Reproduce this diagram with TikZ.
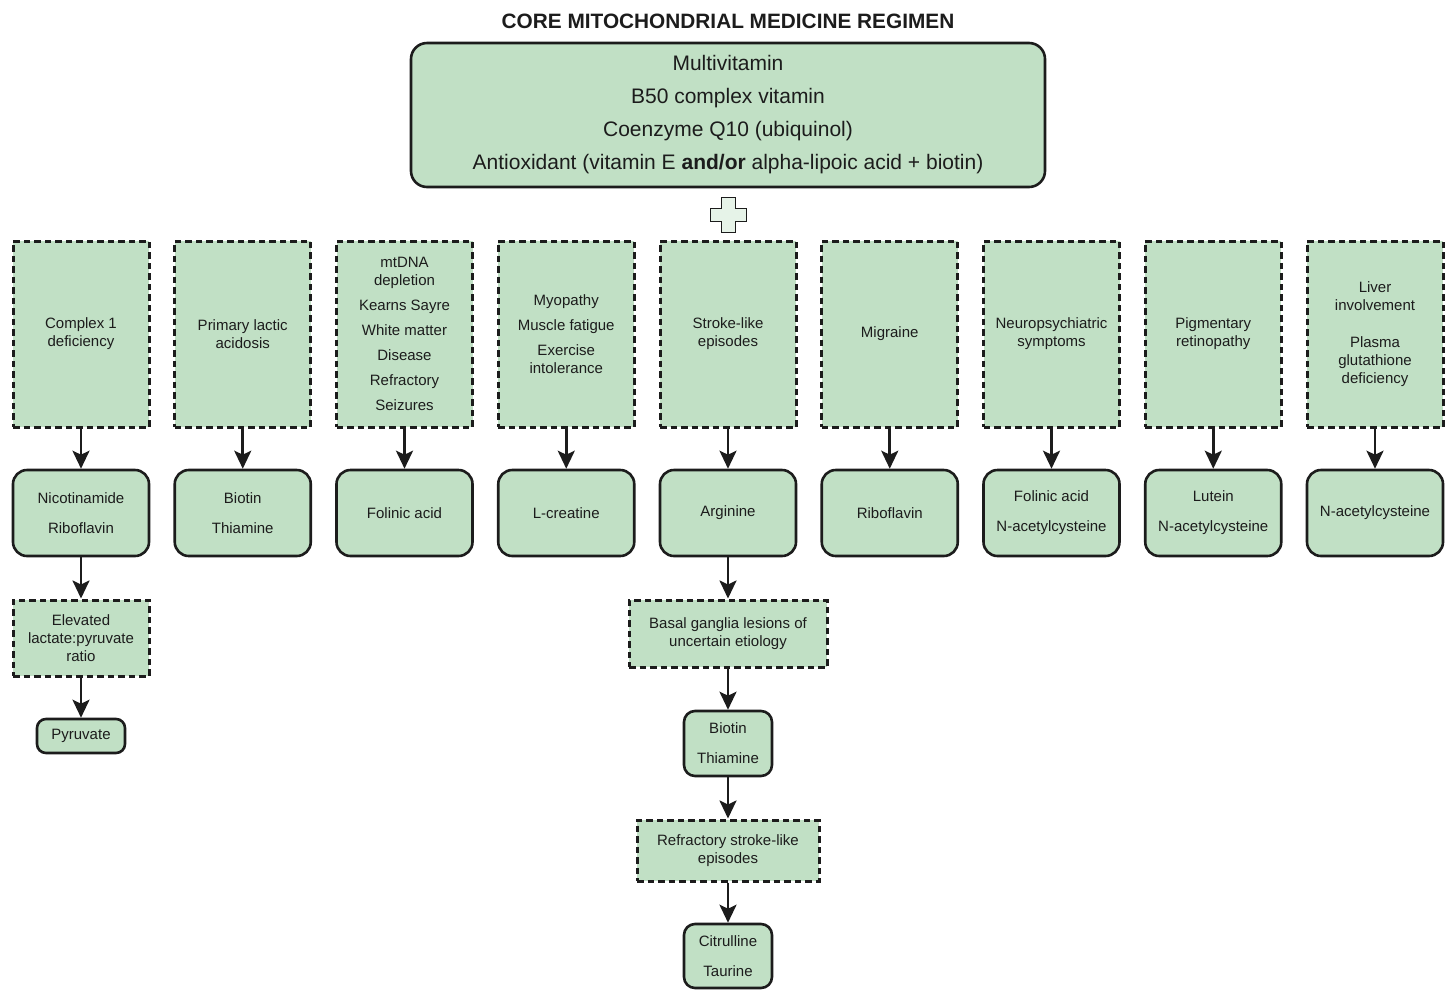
\documentclass[tikz,border=0pt]{standalone}
\usepackage{fontspec}
\setmainfont{Liberation Sans}
\usetikzlibrary{arrows.meta}
\definecolor{boxgreen}{RGB}{193,224,197}
\definecolor{edge}{RGB}{28,28,28}
\tikzset{
  base/.style={fill=boxgreen, align=center, inner sep=0pt, font=\fontsize{15}{18}\selectfont, text=edge},
  dbox/.style={base, draw=edge, line width=3pt, dash pattern=on 6.5pt off 4pt},
  rbox/.style={base, draw=edge, line width=2.6pt, rounded corners=14pt},
  arr/.style={draw=edge, line width=2.6pt, -{Stealth[length=18pt,width=17pt,inset=4pt]}},
}
\begin{document}
\begin{tikzpicture}[x=1pt,y=-1pt]
\useasboundingbox (0,0) rectangle (1453,989);
\node[font=\bfseries\fontsize{20.8}{24}\selectfont, text=edge] (title) at (728,21) {CORE MITOCHONDRIAL MEDICINE REGIMEN};
\node[rbox, rounded corners=16pt, minimum width=634pt, minimum height=144pt, font=\fontsize{21}{33}\selectfont] (core) at (728,115)
 {Multivitamin\\B50 complex vitamin\\Coenzyme Q10 (ubiquinol)\\Antioxidant (vitamin E \textbf{and/or} alpha-lipoic acid + biotin)};
\draw[draw=edge, line width=1pt, fill=boxgreen!40!white] (721,197) -- (735,197) -- (735,208) -- (746,208) -- (746,221) -- (735,221) -- (735,232) -- (721,232) -- (721,221) -- (710,221) -- (710,208) -- (721,208) -- cycle;
\coordinate (plus) at (728,214);
% columns
\foreach \i/\txt/\med in {
 1/{Complex 1\\deficiency}/{Nicotinamide\\[12pt]Riboflavin},
 2/{Primary lactic\\acidosis}/{Biotin\\[12pt]Thiamine},
 3/{mtDNA\\depletion\\[7pt]Kearns Sayre\\[7pt]White matter\\[7pt]Disease\\[7pt]Refractory\\[7pt]Seizures}/{Folinic acid},
 4/{Myopathy\\[7pt]Muscle fatigue\\[7pt]Exercise\\intolerance}/{L-creatine},
 5/{Stroke-like\\episodes}/{Arginine},
 6/{Migraine}/{Riboflavin},
 7/{Neuropsychiatric\\symptoms}/{Folinic acid\\[12pt]N-acetylcysteine},
 8/{Pigmentary\\retinopathy}/{Lutein\\[12pt]N-acetylcysteine},
 9/{Liver\\involvement\\[19pt]Plasma\\glutathione\\deficiency}/{N-acetylcysteine}} {
  \pgfmathsetmacro{\cx}{81+161.75*(\i-1)}
  \node[dbox, minimum width=136pt, minimum height=186pt] (c\i) at (\cx,334) {\txt};
  \node[rbox, minimum width=136pt, minimum height=86pt] (m\i) at (\cx,513) {\med};
  \draw[arr] (c\i) -- (m\i);
}
% column 1 chain
\node[dbox, minimum width=136pt, minimum height=76pt] (lac) at (81,638) {Elevated\\lactate:pyruvate\\ratio};
\node[rbox, rounded corners=9pt, minimum width=88pt, minimum height=34pt] (pyr) at (81,736) {Pyruvate};
\draw[arr] (m1) -- (lac);
\draw[arr] (lac) -- (pyr);
% column 5 chain
\node[dbox, minimum width=198pt, minimum height=67pt] (bas) at (728,633.5) {Basal ganglia lesions of\\uncertain etiology};
\node[rbox, rounded corners=11pt, minimum width=88pt, minimum height=65pt] (bt) at (728,743.5) {Biotin\\[12pt]Thiamine};
\node[dbox, minimum width=182pt, minimum height=61pt] (ref) at (728,850.5) {Refractory stroke-like\\episodes};
\node[rbox, rounded corners=11pt, minimum width=88pt, minimum height=64pt] (cit) at (728,956) {Citrulline\\[12pt]Taurine};
\draw[arr] (m5) -- (bas);
\draw[arr] (bas) -- (bt);
\draw[arr] (bt) -- (ref);
\draw[arr] (ref) -- (cit);
\end{tikzpicture}
\end{document}
